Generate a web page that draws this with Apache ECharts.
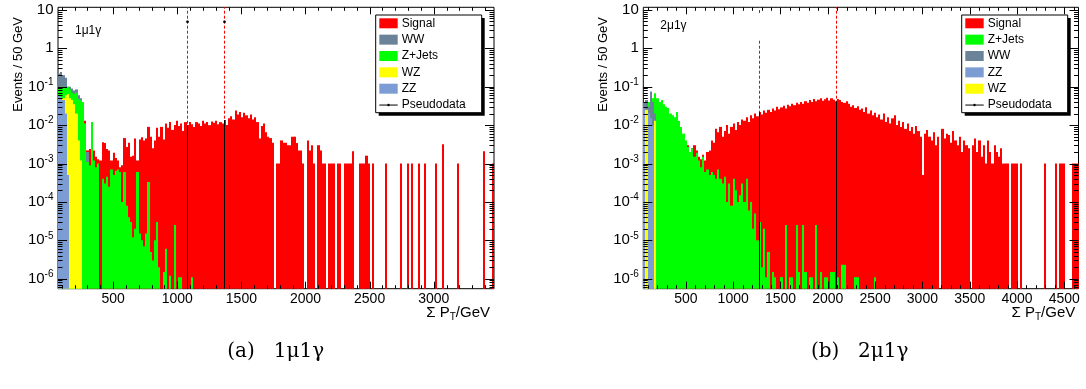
<!DOCTYPE html>
<html><head><meta charset="utf-8">
<script src="https://cdn.jsdelivr.net/npm/echarts@6/dist/echarts.min.js"></script>
<style>html,body{margin:0;padding:0;background:#fff}#c{width:1086px;height:389px}</style>
</head><body><div id="c"></div>
<script>
// ---------- axis ranges & labels ----------
const YMIN = 5.5e-7, YMAX = 11.7;
const X1_MIN = 70, X1_MAX = 3470, BIN1 = 17;   // panel (a) histogram binning
const X2_MIN = 50, X2_MAX = 4650, BIN2 = 23;   // panel (b) histogram binning
const xLabels1 = [500, 1000, 1500, 2000, 2500, 3000];
const xLabels2 = [500, 1000, 1500, 2000, 2500, 3000, 3500, 4000, 4500];
const yLabelExps = [-6, -5, -4, -3, -2, -1, 0, 1];

// ---------- panel (a) 1mu1gamma : bin contents ----------
const sig1 = [
0,0,0,0,0,0,0,0,0,0,0,0,
.013,.0022,.0024,.002,.0022,.0015,.0013,.0012,
.0036,.0034,.0024,.0022,.0012,.0019,.0014,.0012,.0008,.0009,
.0046,.0027,.0035,.0015,.0016,.0045,.0012,.0042,.0048,.004,
.0045,.009,.005,.0025,.004,.0085,.005,.009,.0042,.011,
.0085,.012,.0075,.01,.013,.0095,.011,.007,.012,.01,
.012,.0105,.009,.012,.011,.0095,.013,.011,.012,.01,
.0125,.0115,.013,.0105,.012,.011,.0135,.01,.015,.017,
.014,.024,.019,.022,.016,.021,.018,.015,.019,.014,
.016,.012,.0045,.0095,.011,.0065,.005,.0046,.0035,0,
.001,.001,.004,.0035,.0035,.003,.003,.005,.005,.0034,
.0022,.0022,.001,0,.004,.0022,.003,.001,0,.003,
.0022,.001,.001,0,.001,.001,.001,0,.001,.001,
0,.001,.001,.001,.001,.0021,0,0,.001,.001,
.001,.0016,.001,0,.001,0,0,0,0,0,
.001,0,0,0,0,0,0,.001,0,0,
.001,0,.001,0,0,.001,0,0,.001,0,
0,0,0,.001,0,0,.0032,0,0,0,
0,0,0,.001,0,0,0,0,0,0,
0,0,0,0,0,.0021,0,0,0,.001];
const ww1 = [.22,.24,.2,.17,.1,.1,.09,.08,.085,.06,.05,.02,.005,.002];
const zj1 = [
.09,.1,.1,.095,.1,.085,.07,.065,.07,.048,
.045,.04,.011,.0011,.0009,.012,.0012,.0008,.001,0,
.0004,.0003,.00045,.00025,.0007,.0005,.00065,.0007,.0006,.0001,
.0006,.00008,.00004,.00003,.000012,.00002,.0006,.000015,.00001,.000007,
.000015,.00033,.000005,.000003,.00001,.00003,.000002,0,.0000015,.000006,
0,.0000012,0,.000025,0,.0000011,.0000011,0,0,0,0,.0000011];
const wz1 = [.03,.04,.05,.06,.065,.05,.045,.035,.02,.004,.0012];
const zz1 = [.06,.055,.045,.02,.0005];
const pd1X = [1075, 1365];
const pd1Y = [4.9, 4.9];

// ---------- panel (b) 2mu1gamma : bin contents ----------
const sig2 = [
0,0,0,0,0,0,0,0,0,0,0,0,0,0,0,0,
.0038,.0015,.002,.0025,
.003,.0018,.0025,.003,.0022,.0015,.0013,.0017,.0012,.002,
.0022,.004,.0035,.008,.0065,.009,.005,.007,.01,.006,
.009,.011,.0075,.012,.01,.014,.013,.016,.012,.018,
.015,.02,.017,.022,.019,.024,.021,.025,.022,.027,
.024,.03,.026,.029,.032,.027,.034,.031,.036,.033,
.038,.035,.04,.036,.042,.038,.045,.04,.048,.042,
.046,.05,.043,.047,.052,.044,.05,.046,.042,.048,
.045,.04,.038,.042,.036,.03,.033,.028,.031,.025,
.027,.022,.029,.02,.024,.018,.021,.016,.019,.014,
.02,.012,.016,.011,.015,.018,.01,.013,.009,.012,
.008,.011,.007,.009,.006,.0095,.007,.005,.0005,.006,
.0075,.005,.004,.0065,.003,.005,0,.008,.0045,.006,
.0055,.0035,.007,.004,.003,.005,.002,.004,.003,.0025,
0,.003,.0045,.002,.004,.0015,.003,.001,.004,.002,
.001,.003,.002,.0015,.0025,.001,.001,.001,0,.001,
.001,.001,0,.001,0,0,0,0,0,0,
0,0,0,0,.001,0,0,0,0,.001,
0,.001,.001,.001,0,0,0,.001,.001,.001];
const zj2 = [
.02,.015,.04,.04,.05,.068,.05,.04,.045,.035,
.03,.028,.02,.018,.016,.022,.013,.009,.006,.004,
.0027,.002,.0025,.0015,.0019,.0012,.0008,.0015,.0006,.0007,
.0005,.0006,.0005,.0004,.0007,.0004,.0003,.00045,.0001,.0003,
.00008,.0004,.0002,.0001,.00015,.0003,.0001,.0004,.00006,.0001,
.00002,.00005,.00001,.00003,.000002,.00002,.0000011,.000005,0,.0000015,
.0000011,0,0,.0000011,0,.000025,0,.0000011,.0000011,0,
.000025,.0000015,0,.000025,.0000015,0,.0000011,.0000011,0,.000025,
0,.0000015,0,.0000011,.0000011,0,.0000015,.0000015,0,.0000011,
0,.0000023,.0000023,0,0,0,0,.0000011,.0000011,0,
0,0,0,0,0,0,.0000011];
const ww2 = [.04,.045,.03,.075,.04,.02];
const zz2 = [.03,.02,.02,.015,.01,.004];
const wz2 = [0,.025,0,0,0,.013];
const pd2X = [1275, 2087];
const pd2Seg = [[[YMIN, 1.7], [8.3, YMAX]], [[YMIN, YMAX]]];

// ---------- colours ----------
const C_SIG = '#ff0000', C_ZJ = '#00ff00', C_WZ = '#ffff00', C_WW = '#6a8399', C_ZZ = '#7c9cd4';
const FONT = '"Liberation Sans", Arial, sans-serif';

function bars(gi, x0, bw, vals, color) {
  const data = [];
  for (let i = 0; i < vals.length; i++) if (vals[i] > 0) data.push([x0 + i * bw, vals[i]]);
  return { type: 'custom', xAxisIndex: gi, yAxisIndex: gi, z: 2, silent: true, data: data,
    renderItem: function (params, api) {
      const xs = api.value(0), v = api.value(1);
      const a = api.coord([xs, v]), b = api.coord([xs + bw, YMIN]);
      const x1 = Math.round(a[0]), x2 = Math.max(Math.round(b[0]), x1 + 1);
      return { type: 'rect', shape: { x: x1, y: a[1], width: x2 - x1, height: b[1] - a[1] },
        style: { fill: color } };
    } };
}
function pdRed(gi, xs, segs) {
  return { type: 'custom', xAxisIndex: gi, yAxisIndex: gi, z: 1, silent: true,
    data: xs.map((x, i) => [x, 1, i]),
    renderItem: function (params, api) {
      const x = api.value(0), i = api.value(2);
      const ch = segs[i].map(s => {
        const a = api.coord([x, s[0]]), b = api.coord([x, s[1]]);
        const px = Math.round(a[0]) + 0.5;
        return { type: 'line', shape: { x1: px, y1: a[1], x2: px, y2: b[1] },
          style: { stroke: C_SIG, lineWidth: 1, lineDash: [3, 2] } };
      });
      return { type: 'group', children: ch };
    } };
}
function pdBlack(gi, xs, ys, sig, x0, bw) {
  return { type: 'custom', xAxisIndex: gi, yAxisIndex: gi, z: 4, silent: true,
    data: xs.map((x, i) => [x, 1, i]),
    renderItem: function (params, api) {
      const x = api.value(0), i = api.value(2);
      const top = sig[Math.floor((x - x0) / bw)];
      const a = api.coord([x, YMIN]), b = api.coord([x, top]);
      const px = Math.round(a[0]) + 0.5;
      const ch = [{ type: 'line', shape: { x1: px, y1: a[1], x2: px, y2: b[1] }, style: { stroke: '#000', lineWidth: 1 } }];
      if (ys && ys[i] != null) {
        const p = api.coord([x, ys[i]]);
        ch.push({ type: 'circle', shape: { cx: px, cy: p[1], r: 1.4 }, style: { fill: '#000' } });
      }
      return { type: 'group', children: ch };
    } };
}
function decor(gi, xMin, xMax) {
  return { type: 'custom', xAxisIndex: gi, yAxisIndex: gi, z: 5, silent: true, data: [[xMin, 1]],
    renderItem: function (params, api) {
      const c = [];
      const yB = api.coord([xMin, YMIN])[1], yT = api.coord([xMin, YMAX])[1];
      const xL = api.coord([xMin, 1])[0], xR = api.coord([xMax, 1])[0];
      const ln = (x1, y1, x2, y2) => c.push({ type: 'line', shape: { x1, y1, x2, y2 }, style: { stroke: '#000', lineWidth: 1 } });
      for (let v = Math.ceil(xMin / 100) * 100; v <= xMax; v += 100) {
        const px = Math.round(api.coord([v, 1])[0]) + 0.5;
        const L = (v % 500 === 0) ? 7 : 3.5;
        ln(px, yB, px, yB - L); ln(px, yT, px, yT + L);
      }
      for (let e = -7; e <= 1; e++) for (let m = 1; m <= 9; m++) {
        const v = m * Math.pow(10, e);
        if (v < YMIN || v > YMAX) continue;
        const py = Math.round(api.coord([xMin, v])[1]) + 0.5;
        const L = m === 1 ? 9 : 4.5;
        ln(xL, py, xL + L, py); ln(xR, py, xR - L, py);
      }
      return { type: 'group', children: c };
    } };
}
function xAxisCfg(gi, mn, mx, labels) {
  return { type: 'value', gridIndex: gi, min: mn, max: mx,
    axisLine: { show: false }, axisTick: { show: false }, splitLine: { show: false },
    axisLabel: { customValues: labels, margin: 3, fontSize: 14, fontFamily: FONT, color: '#000',
      formatter: v => labels.indexOf(v) >= 0 ? String(v) : '' } };
}
function yAxisCfg(gi) {
  return { type: 'log', logBase: 10, gridIndex: gi, min: YMIN, max: YMAX,
    axisLine: { show: false }, axisTick: { show: false }, splitLine: { show: false }, minorTick: { show: false },
    axisLabel: { margin: 4.5, color: '#000', fontFamily: FONT, fontSize: 15,
      formatter: function (v) {
        const l = Math.log10(v), e = Math.round(l);
        if (Math.abs(l - e) > 1e-6 || yLabelExps.indexOf(e) < 0) return '';
        if (e === 1) return '{b|10}';
        if (e === 0) return '{b|1}';
        return '{b|10}{s|' + e + '}';
      },
      rich: { b: { fontSize: 15, fontFamily: FONT, color: '#000' },
              s: { fontSize: 10, fontFamily: FONT, color: '#000', padding: [0, 0, 9, 0] } } } };
}
function legendEls(x0, items) {
  const els = [];
  els.push({ type: 'rect', shape: { x: x0 + 3, y: 18, width: 106, height: 97.7 }, style: { fill: '#000' } });
  els.push({ type: 'rect', shape: { x: x0, y: 15, width: 106, height: 97.7 }, style: { fill: '#fff', stroke: '#000', lineWidth: 1 } });
  items.forEach((it, k) => {
    const cy = 23.3 + k * 16.35;
    if (it.color) {
      els.push({ type: 'rect', shape: { x: x0 + 3.6, y: cy - 5, width: 18.4, height: 10 }, style: { fill: it.color } });
    } else {
      els.push({ type: 'line', shape: { x1: x0 + 3.6, y1: cy, x2: x0 + 22, y2: cy }, style: { stroke: '#000', lineWidth: 1 } });
      els.push({ type: 'circle', shape: { cx: x0 + 12.8, cy: cy, r: 1.2 }, style: { fill: '#000' } });
    }
    els.push({ type: 'text', x: x0 + 26, y: cy, style: { text: it.name, font: '12px ' + FONT, fill: '#000', align: 'left', verticalAlign: 'middle' } });
  });
  return els;
}
function texts(dx, tag, capA, capB, tagY) {
  return [
    { type: 'text', x: 18 + dx, y: 17, rotation: Math.PI / 2,
      style: { text: 'Events / 50 GeV', font: '13px ' + FONT, fill: '#000', align: 'right', verticalAlign: 'middle' } },
    { type: 'text', x: 490 + dx, y: 313,
      style: { text: '{a|Σ P}{b|T}{a|/GeV}', align: 'right', verticalAlign: 'middle',
        rich: { a: { fontSize: 15, fontFamily: FONT, fill: '#000' }, b: { fontSize: 10, fontFamily: FONT, fill: '#000', padding: [8, 0, 0, 0] } } } },
    { type: 'text', x: 75 + dx, y: tagY, style: { text: tag, font: '12px ' + FONT, fill: '#000', align: 'left', verticalAlign: 'middle' } },
    { type: 'text', x: 241 + dx * 0.998, y: 352, style: { text: capA, font: '20px "DejaVu Serif", serif', fill: '#000', align: 'center', verticalAlign: 'middle' } },
    { type: 'text', x: 299 + dx * 0.998, y: 352, style: { text: capB, font: '20px "DejaVu Serif", serif', fill: '#000', align: 'center', verticalAlign: 'middle' } }
  ];
}

const chart = echarts.init(document.getElementById('c'), null, { renderer: 'canvas' });
const D = 585.3;
chart.setOption({
  animation: false,
  backgroundColor: '#fff',
  grid: [
    { left: 58, top: 7.3, width: 436, height: 281.4, show: true, borderColor: '#000', borderWidth: 1, backgroundColor: 'transparent' },
    { left: 643.3, top: 7.3, width: 435.2, height: 281.4, show: true, borderColor: '#000', borderWidth: 1, backgroundColor: 'transparent' }
  ],
  xAxis: [xAxisCfg(0, X1_MIN, X1_MAX, xLabels1), xAxisCfg(1, X2_MIN, X2_MAX, xLabels2)],
  yAxis: [yAxisCfg(0), yAxisCfg(1)],
  series: [
    pdRed(0, pd1X, [[[YMIN, YMAX]], [[YMIN, YMAX]]]),
    bars(0, X1_MIN, BIN1, sig1, C_SIG),
    bars(0, X1_MIN, BIN1, ww1, C_WW),
    bars(0, X1_MIN, BIN1, zj1, C_ZJ),
    bars(0, X1_MIN, BIN1, wz1, C_WZ),
    bars(0, X1_MIN, BIN1, zz1, C_ZZ),
    pdBlack(0, pd1X, pd1Y, sig1, X1_MIN, BIN1),
    decor(0, X1_MIN, X1_MAX),
    pdRed(1, pd2X, pd2Seg),
    bars(1, X2_MIN, BIN2, sig2, C_SIG),
    bars(1, X2_MIN, BIN2, zj2, C_ZJ),
    bars(1, X2_MIN, BIN2, ww2, C_WW),
    bars(1, X2_MIN, BIN2, zz2, C_ZZ),
    bars(1, X2_MIN, BIN2, wz2, C_WZ),
    pdBlack(1, pd2X, null, sig2, X2_MIN, BIN2),
    decor(1, X2_MIN, X2_MAX)
  ],
  graphic: [].concat(
    texts(0, '1μ1γ', '(a)', '1μ1γ', 31),
    texts(D, '2μ1γ', '(b)', '2μ1γ', 26),
    legendEls(375.7, [{ name: 'Signal', color: C_SIG }, { name: 'WW', color: C_WW }, { name: 'Z+Jets', color: C_ZJ },
                      { name: 'WZ', color: C_WZ }, { name: 'ZZ', color: C_ZZ }, { name: 'Pseudodata' }]),
    legendEls(961.7, [{ name: 'Signal', color: C_SIG }, { name: 'Z+Jets', color: C_ZJ }, { name: 'WW', color: C_WW },
                      { name: 'ZZ', color: C_ZZ }, { name: 'WZ', color: C_WZ }, { name: 'Pseudodata' }])
  )
});
</script></body></html>
